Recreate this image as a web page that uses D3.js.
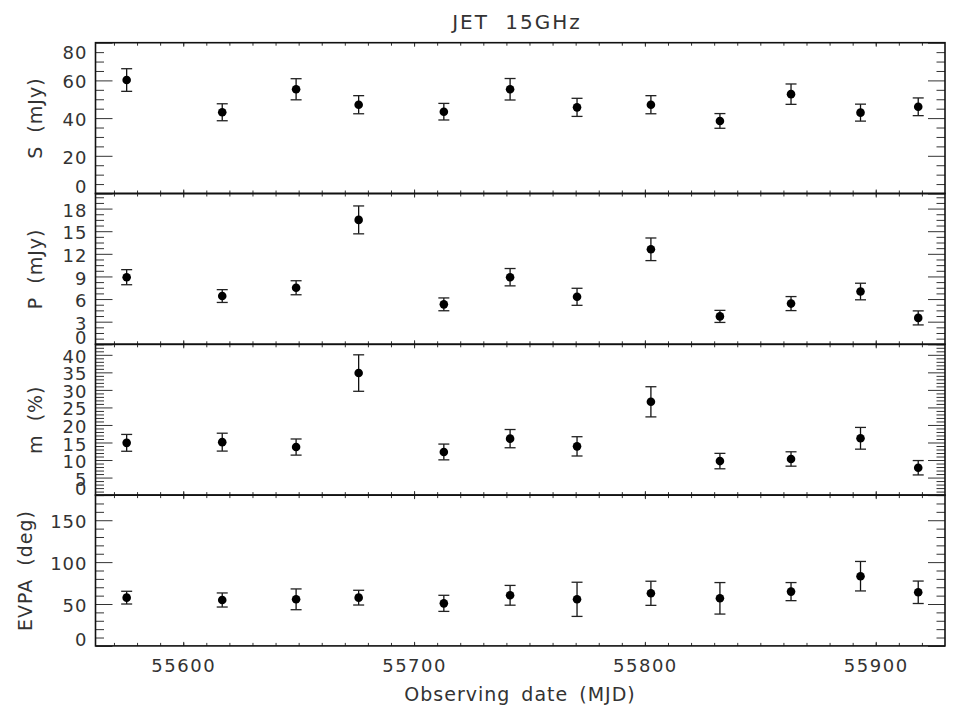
<!DOCTYPE html>
<html>
<head>
<meta charset="utf-8">
<script src="https://cdn.jsdelivr.net/npm/d3@7"></script>
<style>
  body { margin: 0; background: #fff; }
  svg { display: block; }
  text { font-family: "DejaVu Sans", sans-serif; fill: #333; }
  .tick text { font-size: 18px; letter-spacing: 1px; }
</style>
</head>
<body>
<div id="chart"></div>
<script>
// observing epochs (MJD)
const mjd = [55575.5, 55616.9, 55648.9, 55676.0, 55712.9, 55741.6, 55770.6, 55802.6, 55832.5, 55863.3, 55893.4, 55918.4];

// total flux S (mJy)
const fluxS    = [60.2, 43.1, 55.3, 47.1, 43.4, 55.3, 45.7, 47.1, 38.5, 52.7, 42.9, 46.0];
const fluxSErr = [6.0, 4.5, 5.6, 4.8, 4.4, 5.7, 4.8, 4.8, 3.9, 5.4, 4.5, 4.7];

// polarized flux P (mJy)
const polP    = [8.9, 6.4, 7.5, 16.5, 5.3, 8.9, 6.3, 12.6, 3.7, 5.4, 7.0, 3.5];
const polPErr = [1.0, 0.85, 0.93, 1.85, 0.85, 1.15, 1.13, 1.5, 0.8, 0.93, 1.1, 0.93];

// fractional polarization m (%)
const fracM    = [14.9, 15.1, 13.7, 34.8, 12.3, 16.1, 13.9, 26.6, 9.7, 10.3, 16.2, 7.8];
const fracMErr = [2.4, 2.55, 2.3, 5.2, 2.25, 2.6, 2.75, 4.3, 2.2, 2.05, 3.1, 2.05];

// EVPA (deg)
const evpa    = [57.6, 54.8, 55.6, 57.6, 50.8, 60.4, 55.6, 62.8, 56.8, 64.8, 83.2, 64.0];
const evpaErr = [7.6, 8.4, 12.4, 8.8, 9.6, 11.8, 20.4, 14.4, 18.8, 10.8, 17.6, 13.4];

// axis definitions
const xDomain = [55562, 55930];
const xMajor = [55600, 55700, 55800, 55900];
const xMinor = d3.range(55570, 55930, 10);

const panelLabels = ["S (mJy)", "P (mJy)", "m (%)", "EVPA (deg)"];
const panelDomains = [[0, 80], [0, 20], [0, 43], [0, 180]];
const panelMajor = [d3.range(0, 81, 20), d3.range(0, 19, 3), d3.range(0, 41, 5), d3.range(0, 151, 50)];
const panelMinorStep = [5, 0.75, 1, 10];
const panelValues = [fluxS, polP, fracM, evpa];
const panelErrors = [fluxSErr, polPErr, fracMErr, evpaErr];

const width = 973, height = 712;
const left = 95.5, right = 945, top0 = 42.7, panelH = 150.8;

const svg = d3.select("#chart").append("svg")
  .attr("width", width).attr("height", height);

const x = d3.scaleLinear().domain(xDomain).range([left, right]);

svg.append("text")
  .attr("x", 517).attr("y", 29)
  .attr("text-anchor", "middle")
  .style("font-size", "20px")
  .style("letter-spacing", "2px")
  .style("word-spacing", "8px")
  .text("JET 15GHz");

panelLabels.forEach((label, i) => {
  const top = top0 + i * panelH;
  const bottom = top + panelH;
  const dom = panelDomains[i];
  const y = d3.scaleLinear().domain(dom).range([bottom, top]);
  const majors = panelMajor[i];
  const minors = d3.range(dom[0], dom[1] + 1e-6, panelMinorStep[i])
    .filter(v => !majors.some(m => Math.abs(m - v) < 1e-6));
  const g = svg.append("g");

  // y axes: left with labels, right mirrored
  const yl = g.append("g").attr("transform", `translate(${left},0)`)
    .call(d3.axisLeft(y).tickValues(majors).tickSize(-17).tickPadding(8));
  yl.selectAll(".tick text")
    .attr("dy", d => {
      if (d === dom[0]) return "-0.05em";
      if (d === dom[1]) return "0.85em";
      return "0.42em";
    });
  g.append("g").attr("transform", `translate(${left},0)`)
    .call(d3.axisLeft(y).tickValues(minors).tickSize(-8.5).tickFormat(""));
  g.append("g").attr("transform", `translate(${right},0)`)
    .call(d3.axisRight(y).tickValues(majors).tickSize(-17).tickFormat(""));
  g.append("g").attr("transform", `translate(${right},0)`)
    .call(d3.axisRight(y).tickValues(minors).tickSize(-8.5).tickFormat(""));

  // x axes: top and bottom of every panel
  g.append("g").attr("transform", `translate(0,${top})`)
    .call(d3.axisTop(x).tickValues(xMajor).tickSize(-4).tickFormat(""));
  g.append("g").attr("transform", `translate(0,${top})`)
    .call(d3.axisTop(x).tickValues(xMinor).tickSize(-3).tickFormat(""));
  const xb = g.append("g").attr("transform", `translate(0,${bottom})`)
    .call(d3.axisBottom(x).tickValues(xMajor).tickSize(-4).tickPadding(13)
      .tickFormat(i === 3 ? d3.format("d") : ""));
  xb.selectAll(".tick text").style("font-size", "18px").style("letter-spacing", "1.5px");
  g.append("g").attr("transform", `translate(0,${bottom})`)
    .call(d3.axisBottom(x).tickValues(xMinor).tickSize(-3).tickFormat(""));

  g.selectAll(".domain").remove();
  g.selectAll(".tick line").attr("stroke", "#333").attr("stroke-width", 1);
  g.selectAll(".tick text").attr("fill", "#333");

  // frame
  g.append("rect")
    .attr("x", left).attr("y", top)
    .attr("width", right - left).attr("height", panelH)
    .attr("fill", "none").attr("stroke", "#111").attr("stroke-width", 1.6);

  // y label
  const lx = i === 3 ? 32 : 42;
  g.append("text")
    .attr("transform", `translate(${lx},${top + panelH / 2}) rotate(-90)`)
    .attr("text-anchor", "middle")
    .style("font-size", "19px")
    .style("letter-spacing", "1px")
    .style("word-spacing", "6px")
    .text(label);

  // data with error bars
  const vals = panelValues[i], errs = panelErrors[i];
  const pts = g.append("g").selectAll("g").data(mjd).join("g");
  pts.append("line")
    .attr("x1", d => x(d)).attr("x2", d => x(d))
    .attr("y1", (d, k) => y(vals[k] - errs[k]))
    .attr("y2", (d, k) => y(vals[k] + errs[k]))
    .attr("stroke", "#111").attr("stroke-width", 1.3);
  [-1, 1].forEach(s => {
    pts.append("line")
      .attr("x1", d => x(d) - 5.5).attr("x2", d => x(d) + 5.5)
      .attr("y1", (d, k) => y(vals[k] + s * errs[k]))
      .attr("y2", (d, k) => y(vals[k] + s * errs[k]))
      .attr("stroke", "#222").attr("stroke-width", 1.3);
  });
  pts.append("circle")
    .attr("cx", d => x(d))
    .attr("cy", (d, k) => y(vals[k]))
    .attr("r", 4.3)
    .attr("fill", "#000");
});

svg.append("text")
  .attr("x", 520).attr("y", 701)
  .attr("text-anchor", "middle")
  .style("font-size", "19px")
  .style("letter-spacing", "1px")
  .style("word-spacing", "4px")
  .text("Observing date (MJD)");
</script>
</body>
</html>
